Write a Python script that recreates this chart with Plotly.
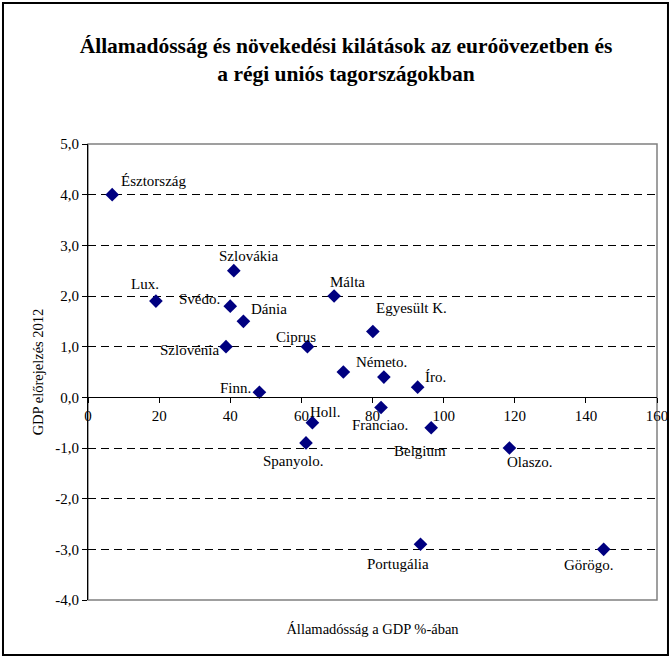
import plotly.graph_objects as go

# ---- data ----
countries = ["Észtország", "Lux.", "Szlovákia", "Svédo.", "Dánia", "Málta",
             "Egyesült K.", "Ciprus", "Szlovénia", "Ausztria", "Németo.", "Íro.",
             "Finn.", "Holl.", "Spanyolo.", "Franciao.", "Belgium", "Olaszo.",
             "Portugália", "Görögo."]
shown_labels = ["Észtország", "Lux.", "Szlovákia", "Svédo.", "Dánia", "Málta",
                "Egyesült K.", "Ciprus", "Szlovénia", "", "Németo.", "Íro.",
                "Finn.", "Holl.", "Spanyolo.", "Franciao.", "Belgium", "Olaszo.",
                "Portugália", "Görögo."]
debt = [6.8, 19.1, 41.0, 40.0, 43.7, 69.2, 80.1, 61.7, 38.8, 71.8, 83.2, 92.7,
        48.2, 63.1, 61.3, 82.4, 96.5, 118.5, 93.5, 145.0]
gdp_2012 = [4.0, 1.9, 2.5, 1.8, 1.5, 2.0, 1.3, 1.0, 1.0, 0.5, 0.4, 0.2,
            0.1, -0.5, -0.9, -0.2, -0.6, -1.0, -2.9, -3.0]

y_ticks = [-4, -3, -2, -1, 0, 1, 2, 3, 4, 5]
y_ticklabels = [f"{v:.1f}".replace(".", ",") for v in y_ticks]

title_text = "Államadósság és növekedési kilátások az euróövezetben és<br>a régi uniós tagországokban"
x_title = "Államadósság a GDP %-ában"
y_title = "GDP előrejelzés 2012"

# ---- label offsets (px, dx right, dy up) ----
label_offsets = [(41, 14), (-11, 17), (15, 15), (-31, 7), (26, 12), (13, 14),
                 (39, 23), (-11, 10), (-36, -3), (0, 0), (-2, 15), (18, 10),
                 (-24, 4), (13, 11), (-13, -18), (-1, -18), (-11, -23), (20, -14),
                 (-23, -20), (-15, -16)]

FONT = "Liberation Serif, Times New Roman, serif"

fig = go.Figure()
fig.add_trace(go.Scatter(
    x=debt, y=gdp_2012, mode="markers", text=countries,
    marker=dict(symbol="diamond", size=10.5, color="#000080",
                line=dict(width=0)),
    showlegend=False, cliponaxis=False,
))

for lab, xv, yv, (dx, dy) in zip(shown_labels, debt, gdp_2012, label_offsets):
    if not lab:
        continue
    fig.add_annotation(x=xv, y=yv, xref="x", yref="y", text=lab,
                       showarrow=False, xshift=dx, yshift=dy,
                       font=dict(family=FONT, size=15, color="black"))

# plot-area border (gray) and outer chart border (black)
fig.add_shape(type="rect", xref="paper", yref="paper", x0=0, y0=0, x1=1, y1=1,
              line=dict(color="#808080", width=1.5), layer="below")
fig.add_shape(type="rect", xref="paper", yref="paper",
              x0=-0.1494, y0=-0.1206, x1=1.0193, y1=1.3092,
              line=dict(color="black", width=2), layer="below")

fig.update_layout(
    width=672, height=659,
    margin=dict(l=88, r=15, t=144, b=59, autoexpand=False),
    paper_bgcolor="white", plot_bgcolor="white",
    font=dict(family=FONT, size=15, color="black"),
    title=dict(text=title_text, x=0.4534, xanchor="center", y=0.92, yanchor="middle",
               xref="paper",
               font=dict(family=FONT, size=21.5, color="black", weight="bold")),
    xaxis=dict(range=[0, 160], dtick=20, tick0=0, anchor="free", position=4/9,
               showline=True, linecolor="black", linewidth=1,
               ticks="outside", ticklen=5, tickcolor="black",
               showgrid=False, zeroline=False, automargin=False,
               tickfont=dict(family=FONT, size=15, color="black"),
               title=dict(text=x_title, standoff=200,
                          font=dict(family=FONT, size=14.5, color="black"))),
    yaxis=dict(range=[-4, 5], tickvals=y_ticks, ticktext=y_ticklabels,
               showline=True, linecolor="black", linewidth=1,
               ticks="outside", ticklen=5, tickcolor="black",
               showgrid=True, gridcolor="black", gridwidth=1, griddash="8px,5px",
               zeroline=False, automargin=False,
               tickfont=dict(family=FONT, size=15, color="black"),
               title=dict(text=y_title, standoff=8,
                          font=dict(family=FONT, size=14.5, color="black"))),
)

fig.write_html("out.html",
               config={"displayModeBar": False},
               post_script="document.body.style.margin='0px';")
